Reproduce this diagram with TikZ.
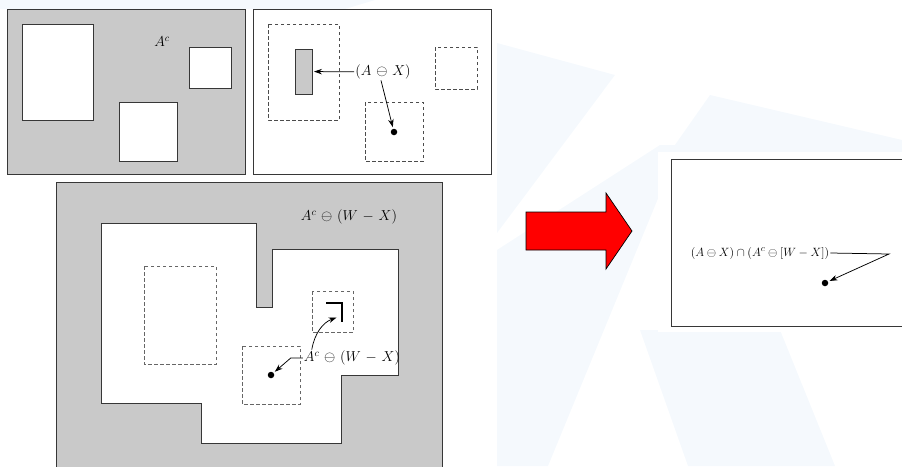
\documentclass[tikz,border=0pt]{standalone}
\usepackage{amsmath,amssymb}
\usetikzlibrary{arrows.meta}
\definecolor{panelgray}{RGB}{201,201,201}
\definecolor{edgegray}{RGB}{55,55,55}
\definecolor{wmblue}{RGB}{245,249,253}
\definecolor{arrowred}{RGB}{255,0,0}
\newcommand{\wideops}{\medmuskip=6mu\relax}

\begin{document}
\begin{tikzpicture}[x=1pt, y=-1pt, >={Stealth[length=8pt,width=5.5pt]},
        panel/.style={fill=panelgray, draw=edgegray, line width=1pt},
        hole/.style={fill=white, draw=edgegray, line width=1pt},
        ghost/.style={draw=black!70, dash pattern=on 3.5pt off 2.5pt, line width=0.8pt},
        dot/.style={circle, fill=black, inner sep=0pt, minimum size=6.5pt},
        lbl/.style={inner sep=1pt, font=\fontsize{14}{16}\selectfont},
        lblsmall/.style={inner sep=1pt, font=\fontsize{12.3}{14}\selectfont},
        pointer/.style={->, line width=0.75pt, shorten >=1.5pt}]
        \useasboundingbox (0,0) rectangle (902,466);

        % Fondo (marca de agua)
        \fill[wmblue] (0,0) -- (375,0) -- (345,9) -- (0,9) -- cycle;
        \fill[wmblue] (497,43) -- (615,75) -- (497,233) -- cycle;
        \fill[wmblue] (497,250) -- (660,145) -- (680,145) -- (548,466) -- (497,466) -- cycle;
        \fill[wmblue] (640,330) -- (780,330) -- (835,466) -- (688,466) -- cycle;
        \fill[wmblue] (710,95) -- (902,140) -- (902,152) -- (670,152) -- cycle;

        % Panel 1: A^c
        \filldraw[panel] (7,9) rectangle (245,174);
        \filldraw[hole] (22,24) rectangle (93,120);
        \filldraw[hole] (119,102) rectangle (177,161);
        \filldraw[hole] (189,47) rectangle (231,88);
        \node[lbl] (ac) at (162,42) {$A^c$};

        % Panel 2: erosion de A por X
        \filldraw[hole] (253,9) rectangle (491,174);
        \draw[ghost] (268,24) rectangle (339,120);
        \draw[ghost] (365,102) rectangle (423,161);
        \draw[ghost] (435,47) rectangle (477,89);
        \node[panel, minimum width=17pt, minimum height=45pt, inner sep=0pt] (core) at (303.5,71.5) {};
        \node[lbl] (ax) at (383,72) {$\wideops(A\ominus X)$};
        \node[dot] (p1) at (394,132) {};
        \draw[pointer] (ax) -- (core);
        \draw[pointer] ([xshift=-2pt]ax.south) -- (p1);

        % Panel 3: A^c erosionado por (W - X)
        \fill[panelgray] (56,182) rectangle (442,470);
        \draw[edgegray, line width=1pt] (56,470) -- (56,182) -- (442,182) -- (442,470);
        \filldraw[hole] (101,223) -- (256,223) -- (256,307) -- (272,307) -- (272,249)
            -- (398,249) -- (398,375) -- (341,375) -- (341,443) -- (201,443)
            -- (201,403) -- (101,403) -- cycle;
        \draw[ghost, draw=black!60] (144,266) rectangle (216,364);
        \draw[ghost, draw=black!60] (242,346) rectangle (300,404);
        \draw[ghost, draw=black!60] (312,291) rectangle (353,332);
        \draw[line width=1.7pt] (326,303) -| (342,322);
        \coordinate (hook) at (338,317);
        \node[lbl] (wxt) at (349,217) {$\wideops A^c\ominus(W-X)$};
        \node[lbl] (wx) at (352,358) {$\wideops A^c\ominus(W-X)$};
        \node[dot] (p2) at (271,375) {};
        \draw[pointer] (wx.west) -- ++(-12,0) -- (p2);
        \draw[pointer] ([xshift=9pt]wx.north west) to[out=80, in=200] (hook);

        % Flecha roja
        \filldraw[fill=arrowred, draw=black, line width=0.7pt] (526,212) -- (606,212) -- (606,193)
            -- (632,231) -- (606,269) -- (606,250) -- (526,250) -- cycle;

        % Panel 4: interseccion
        \fill[white] (658,152) rectangle (905,332);
        \draw[edgegray, line width=1pt] (905,159) -- (671,159) -- (671,326) -- (905,326);
        \node[lblsmall] (both) at (760,253) {$(A\ominus X)\cap(A^c\ominus[W-X])$};
        \coordinate (elbow) at (889,254);
        \node[dot] (p3) at (825,283) {};
        \draw[pointer] (both.east) -- (elbow) -- (p3);
    \end{tikzpicture}
\end{document}
